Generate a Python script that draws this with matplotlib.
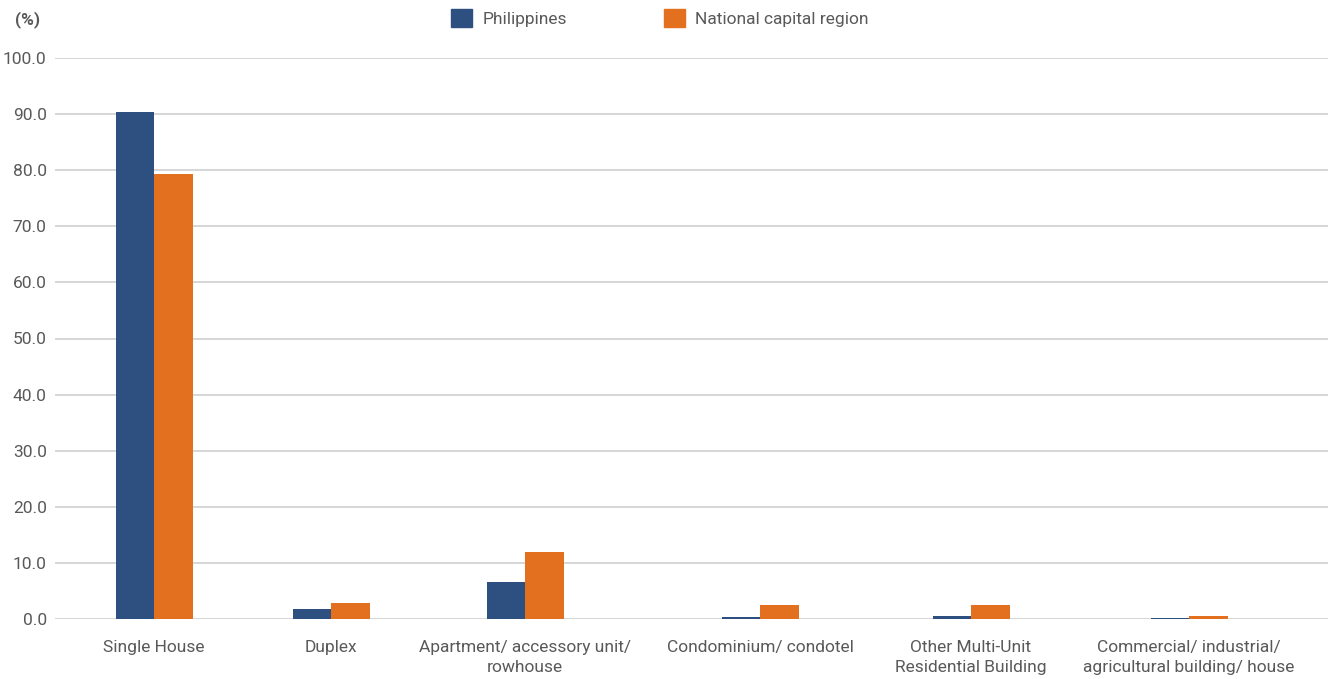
import matplotlib
matplotlib.use("Agg")
import matplotlib.pyplot as plt
from matplotlib import font_manager
from matplotlib.patches import Patch

# data (percent)
categories = ["Single House", "Duplex", "Apartment/ accessory unit/\nrowhouse",
              "Condominium/ condotel", "Other Multi-Unit\nResidential Building",
              "Commercial/ industrial/\nagricultural building/ house"]
philippines = [90.3, 1.8, 6.6, 0.4, 0.6, 0.2]
ncr = [79.3, 2.9, 12.0, 2.5, 2.5, 0.6]
yticks = [0, 10, 20, 30, 40, 50, 60, 70, 80, 90, 100]

# layout: category centres (the original spacing is uneven)
xpos = [154, 331, 525, 760, 971, 1189]
bar_w = 38.5

names = {f.name for f in font_manager.fontManager.ttflist}
family = "Liberation Sans Narrow" if "Liberation Sans Narrow" in names else "Roboto"
plt.rcParams["font.family"] = [family, "DejaVu Sans"]

BLUE = "#2d5081"
ORANGE = "#e2701f"
GREY = "#595959"

fig = plt.figure(figsize=(13.35, 6.79), dpi=100)
ax = fig.add_axes([55 / 1335, 60 / 679, (1328 - 55) / 1335, (619 - 58) / 679])

ax.bar([x - bar_w / 2 for x in xpos], philippines, width=bar_w, color=BLUE, zorder=3)
ax.bar([x + bar_w / 2 for x in xpos], ncr, width=bar_w, color=ORANGE, zorder=3)

ax.set_xlim(55, 1328)
ax.set_ylim(0, 100)
ax.set_yticks(yticks)
ax.set_yticklabels([f"{v:.1f}" for v in yticks], fontsize=12.5, color=GREY)
ax.set_xticks(xpos)
ax.set_xticklabels(categories, fontsize=12.5, color=GREY, linespacing=1.45)
ax.tick_params(length=0, pad=6)
ax.tick_params(axis="x", pad=15)
ax.grid(axis="y", color="#d0d0d0", linewidth=1.2, zorder=0)
for s in ax.spines.values():
    s.set_visible(False)

fig.text(15 / 1335, 1 - 24 / 679, "(%)", fontsize=12.5, color=GREY, fontweight="bold")

handles = [Patch(color=BLUE, label="Philippines"), Patch(color=ORANGE, label="National capital region")]
fig.legend(handles=handles, loc="upper center", bbox_to_anchor=(660 / 1335, 1.01), ncol=2,
           frameon=False, fontsize=12.5, labelcolor=GREY, handlelength=1.2, handleheight=1.2,
           columnspacing=5.6, handletextpad=0.6)

fig.savefig("out.png", dpi=100)
